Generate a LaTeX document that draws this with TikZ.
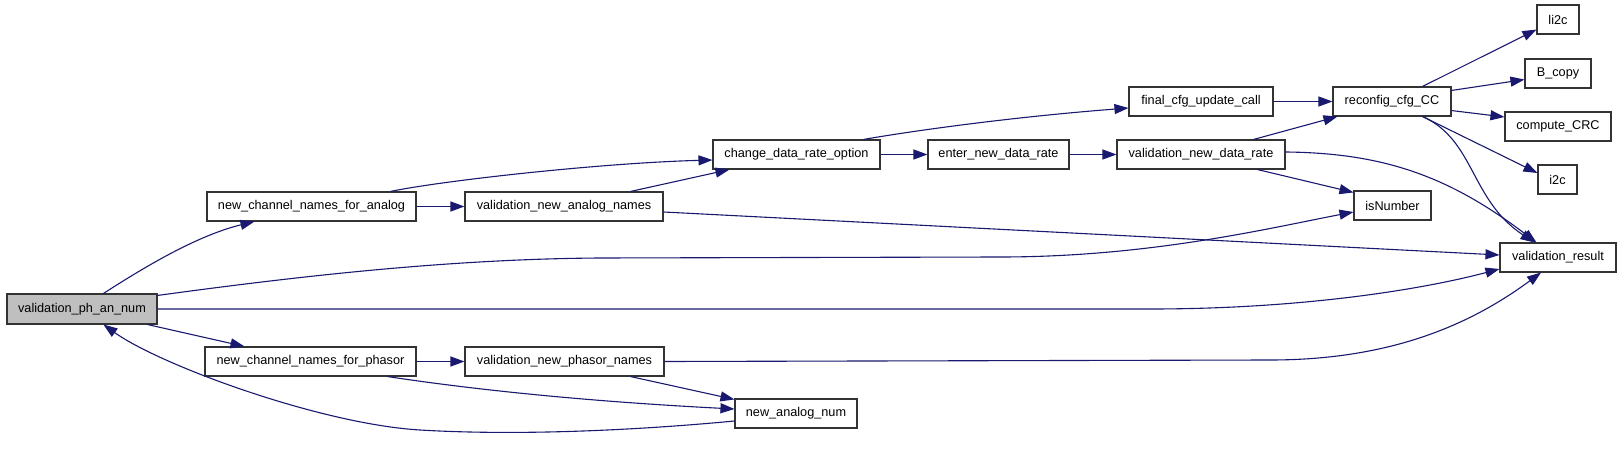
\documentclass[tikz,border=0pt]{standalone}
\usepackage{fontspec}
\setmainfont{Liberation Sans}
\usetikzlibrary{arrows.meta,calc}
\definecolor{edgeblue}{HTML}{191970}
\definecolor{rootgray}{HTML}{BFBFBF}
\begin{document}
\begin{tikzpicture}[x=1pt,y=-1pt,
  fn/.style={draw=black!80, line width=1.1pt, fill=white, inner sep=0pt,
    minimum height=29pt, font=\fontsize{12.7}{14}\selectfont, anchor=center},
  root/.style={fn, fill=rootgray, minimum height=30pt},
  call/.style={draw=edgeblue, line width=1.1pt, -{Triangle[length=14pt,width=10pt]}}]
\useasboundingbox[fill=white] (0,0) rectangle (1621,449);

% nodes
\node[root, minimum width=150pt] (vpan)  at (82,309)     {validation\_ph\_an\_num};
\node[fn, minimum width=209pt]   (ncfa)  at (311.5,206.5) {new\_channel\_names\_for\_analog};
\node[fn, minimum width=211pt]   (ncfp)  at (310.5,361.5) {new\_channel\_names\_for\_phasor};
\node[fn, minimum width=198pt]   (vnan)  at (564,206.5)   {validation\_new\_analog\_names};
\node[fn, minimum width=199pt]   (vnpn)  at (564.5,361.5) {validation\_new\_phasor\_names};
\node[fn, minimum width=167pt]   (cdro)  at (796.5,154.5) {change\_data\_rate\_option};
\node[fn, minimum width=122pt]   (nan)   at (796,413.5)   {new\_analog\_num};
\node[fn, minimum width=141pt]   (endr)  at (998.5,154.5) {enter\_new\_data\_rate};
\node[fn, minimum width=144pt]   (fcuc)  at (1201,101.5)  {final\_cfg\_update\_call};
\node[fn, minimum width=168pt]   (vndr)  at (1201,154.5)  {validation\_new\_data\_rate};
\node[fn, minimum width=118pt]   (rcc)   at (1392,101.5)  {reconfig\_cfg\_CC};
\node[fn, minimum width=77pt]    (isnum) at (1392.5,205.5) {isNumber};
\node[fn, minimum width=42pt]    (li2c)  at (1558,19.5)   {li2c};
\node[fn, minimum width=66pt]    (bcopy) at (1558,73.5)   {B\_copy};
\node[fn, minimum width=106pt]   (crc)   at (1558,126.5)  {compute\_CRC};
\node[fn, minimum width=39pt]    (i2c)   at (1557.5,179.5) {i2c};
\node[fn, minimum width=116pt]   (vres)  at (1558,257.5)  {validation\_result};

% edges
\draw[call] ($(vpan.north west)+(97,0)$) .. controls (140,270) and (195,236) .. ($(ncfa.south west)+(48,0)$);
\draw[call] ($(vpan.south east)+(-10,0)$) -- ($(ncfp.north west)+(40,0)$);
\draw[call] ($(nan.west)+(0,7.5)$) .. controls (640,430) and (520,436) .. (420,430)
  .. controls (320,424) and (160,365) .. ($(vpan.south west)+(97,0)$);
\draw[call] ($(vpan.north east)+(0,2)$) .. controls (300,276) and (450,259) .. (600,258) -- (1000,257)
  .. controls (1150,257) and (1270,228) .. ($(isnum.west)+(0,6.5)$);
\draw[call] (vpan.east) -- (1150,309) .. controls (1300,309) and (1420,290) .. ($(vres.west)+(0,11.5)$);
\draw[call] ($(vnan.east)+(0,5.5)$) -- ($(vres.west)+(0,-2.5)$);
\draw[call] (vnpn.east) -- (1270,360) .. controls (1390,360) and (1470,325) .. ($(vres.south)+(-17,0)$);
\draw[call] ($(vnpn.south east)+(-34,0)$) -- ($(nan.north west)+(0,1)$);
\draw[call] ($(ncfp.south east)+(-29,0)$) .. controls (450,386) and (560,400) .. ($(nan.west)+(0,-4.5)$);
\draw[call] (ncfp.east) -- (vnpn.west);
\draw[call] (ncfa.east) -- (vnan.west);
\draw[call] ($(ncfa.north east)+(-26,0)$) .. controls (440,181) and (600,163) .. ($(cdro.west)+(0,5.5)$);
\draw[call] ($(vnan.north east)+(-33,0)$) -- ($(cdro.south west)+(17,0)$);
\draw[call] (cdro.east) -- (endr.west);
\draw[call] ($(cdro.north east)+(-17,0)$) .. controls (900,133) and (1000,118) .. ($(fcuc.west)+(0,6.5)$);
\draw[call] (endr.east) -- (vndr.west);
\draw[call] (fcuc.east) -- (rcc.west);
\draw[call] ($(vndr.north east)+(-32,0)$) -- ($(rcc.south west)+(5,0)$);
\draw[call] ($(vndr.south east)+(-28,0)$) -- ($(isnum.north west)+(0,2)$);
\draw[call] ($(vndr.east)+(0,-2.5)$) .. controls (1385,153) and (1450,177) .. ($(vres.north west)+(37,0)$);
\draw[call] ($(rcc.north east)+(-29,0)$) -- ($(li2c.south west)+(0,-5)$);
\draw[call] ($(rcc.north east)+(0,4)$) -- ($(bcopy.south west)+(0,-9)$);
\draw[call] ($(rcc.south east)+(0,-6)$) -- ($(crc.west)+(0,-9.5)$);
\draw[call] ($(rcc.south east)+(-29,0)$) -- ($(i2c.west)+(0,-6.5)$);
\draw[call] ($(rcc.south east)+(-29,0)$) .. controls (1475,140) and (1470,200) .. ($(vres.north west)+(35,0)$);
\end{tikzpicture}
\end{document}
